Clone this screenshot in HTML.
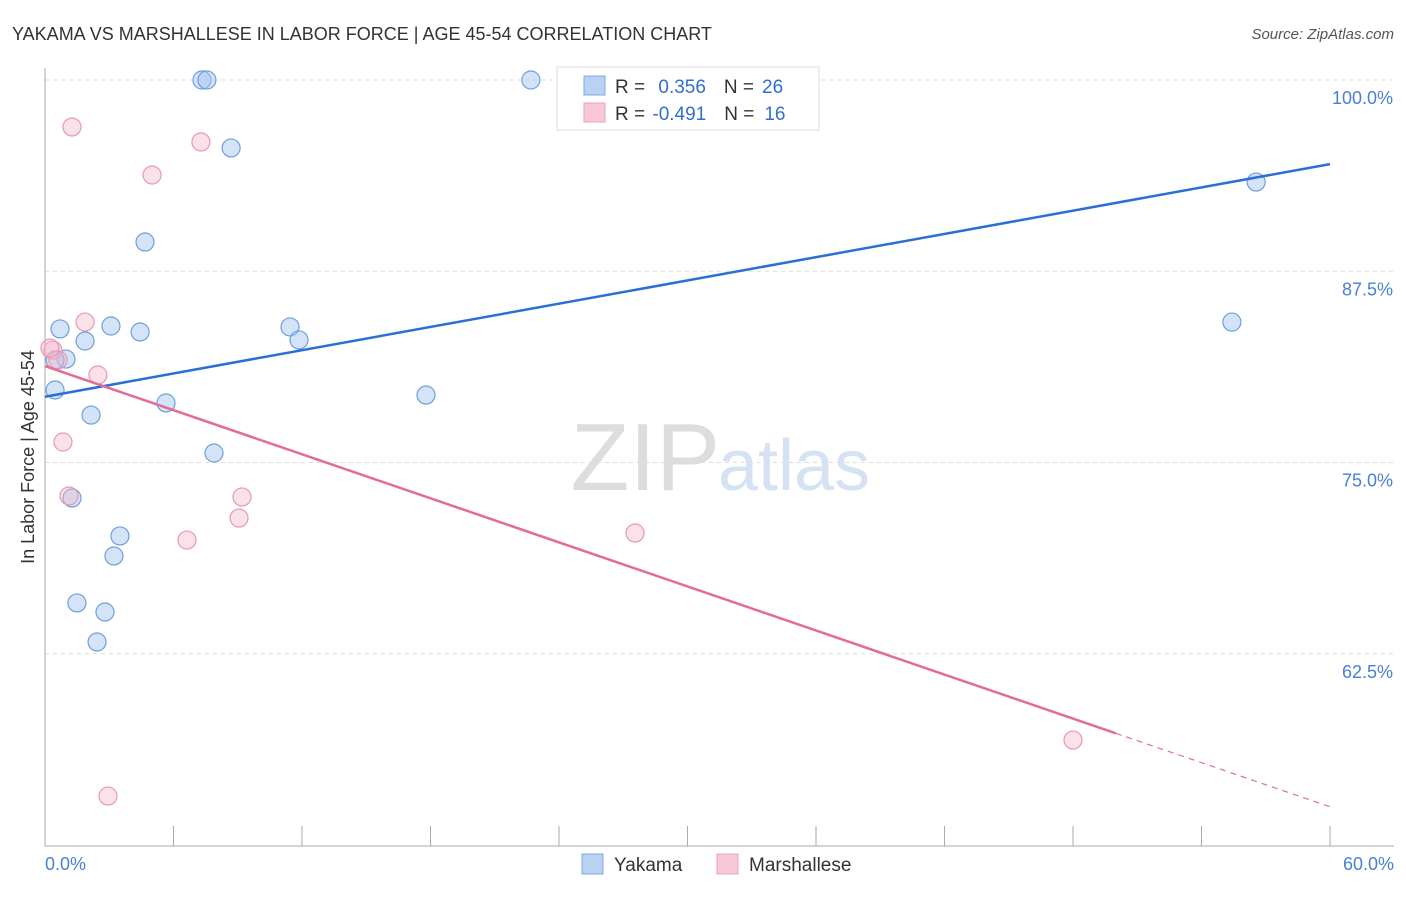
<!DOCTYPE html>
<html><head><meta charset="utf-8"><style>
body{margin:0;background:#fff;font-family:"Liberation Sans",sans-serif}
svg text{font-family:"Liberation Sans",sans-serif}
</style></head><body>
<svg id="c" width="1406" height="892">
<text x="12" y="40" font-size="18" fill="#333">YAKAMA VS MARSHALLESE IN LABOR FORCE | AGE 45-54 CORRELATION CHART</text>
<text x="1394" y="39" font-size="15" fill="#555" font-style="italic" text-anchor="end">Source: ZipAtlas.com</text>
<text x="720" y="490" font-size="96" fill="#ddd" text-anchor="end" font-family="Liberation Serif">ZIP</text>
<text x="718" y="490" font-size="72" fill="#d4e2f4">atlas</text>
<g id="grid"></g>
<line x1="45" y1="68" x2="45" y2="846" stroke="#aaa"/>
<line x1="45" y1="846" x2="1394" y2="846" stroke="#aaa"/>
<text transform="translate(34,457) rotate(-90)" font-size="18" fill="#333" text-anchor="middle">In Labor Force | Age 45-54</text>
<text x="45" y="870" font-size="18" fill="#4a7fd4">0.0%</text>
<text x="1394" y="870" font-size="18" fill="#4a7fd4" text-anchor="end">60.0%</text>
<g id="marks"></g>
<g>
<rect x="557" y="67" width="262" height="63" fill="#fff" stroke="#ddd"/>
<rect x="584" y="76" width="21" height="19" fill="#b9d2f3" stroke="#7fa8e0"/>
<rect x="584" y="103" width="21" height="19" fill="#f8c8d6" stroke="#eca0b8"/>
<text x="615" y="93" font-size="19" fill="#333">R = <tspan fill="#2f6fd0" dx="8">0.356</tspan><tspan dx="18">N =</tspan><tspan fill="#2f6fd0" dx="8">26</tspan></text>
<text x="615" y="120" font-size="19" fill="#333">R = <tspan fill="#2f6fd0" dx="2">-0.491</tspan><tspan dx="18">N =</tspan><tspan fill="#2f6fd0" dx="10">16</tspan></text>
</g>
<g>
<rect x="582" y="854" width="21" height="20" fill="#b9d2f3" stroke="#7fa8e0"/>
<text x="614" y="871" font-size="19" fill="#333">Yakama</text>
<rect x="717" y="854" width="21" height="20" fill="#f8c8d6" stroke="#eca0b8"/>
<text x="749" y="871" font-size="19" fill="#333">Marshallese</text>
</g>
</svg>
<script>
const yTicks=[100,87.5,75,62.5];
const yTickLabels=["100.0%","87.5%","75.0%","62.5%"];
const xTicks=[0,6,12,18,24,30,36,42,48,54,60];
const yakX=[7.33,7.56,22.69,8.69,4.67,56.55,0.70,3.08,4.44,1.87,11.44,11.86,0.98,0.47,0.47,2.15,5.65,17.79,7.89,1.26,3.50,3.22,1.49,2.80,2.43,55.42];
const yakY=[100,100,100,95.56,89.41,93.33,83.73,83.92,83.53,82.94,83.86,83.01,81.76,81.70,79.74,78.10,78.89,79.41,75.62,72.68,70.20,68.89,65.82,65.23,63.27,84.18];
const marX=[1.26,7.28,5.00,1.87,0.37,0.61,2.47,0.84,1.12,9.20,9.06,6.63,27.55,48.0,2.94,0.23];
const marY=[96.93,95.95,93.79,84.18,82.35,81.70,80.72,76.34,72.81,72.75,71.37,69.93,70.39,56.86,53.20,82.48];
const blueLine=[79.3,94.5]; // fitted values at x=0 and x=60
const pinkLine=[81.3,52.5];
const ns="http://www.w3.org/2000/svg";
const X=v=>45+v/60*1285;
const Y=v=>80+(100-v)*15.3;
const grid=document.getElementById('grid'),marks=document.getElementById('marks');
function mk(tag,a,p){const e=document.createElementNS(ns,tag);for(const k in a)e.setAttribute(k,a[k]);p.appendChild(e);return e;}
yTicks.forEach((t,i)=>{
 const l=mk('line',{x1:45,x2:1394,y1:Y(t),y2:Y(t),stroke:'#ddd','stroke-dasharray':'4,4'},grid);
 
 
 const tx=mk('text',{x:1393,y:Y(t)+24,'font-size':18,fill:'#4a7fd4','text-anchor':'end'},grid);
 tx.textContent=yTickLabels[i];
 
 
});
xTicks.forEach(t=>{
 const l=mk('line',{x1:X(t),x2:X(t),y1:826,y2:846,stroke:'#aaa'},grid);
 
 
});
function dots(xs,ys,fill,stroke,name){xs.forEach((x,i)=>{
 const c=mk('circle',{cx:X(x),cy:Y(ys[i]),r:9,fill:fill,stroke:stroke,'stroke-width':1.2},marks);
 
 
});}
dots(yakX,yakY,'rgba(160,195,240,0.45)','#6e9ee0','yakama-point');
dots(marX,marY,'rgba(246,180,200,0.4)','#e898b2','marshallese-point');
const bl=mk('line',{x1:X(0),y1:Y(blueLine[0]),x2:X(60),y2:Y(blueLine[1]),stroke:'#2a6fd6','stroke-width':2.5},marks);


const pm=Math.max(...marX)+2;
const py=pinkLine[0]+(pinkLine[1]-pinkLine[0])*pm/60;
const pl=mk('line',{x1:X(0),y1:Y(pinkLine[0]),x2:X(pm),y2:Y(py),stroke:'#e46b95','stroke-width':2.5},marks);


const pd=mk('line',{x1:X(pm),y1:Y(py),x2:X(60),y2:Y(pinkLine[1]),stroke:'#e46b95','stroke-width':1.2,'stroke-dasharray':'6,5'},marks);


</script>
</body></html>
